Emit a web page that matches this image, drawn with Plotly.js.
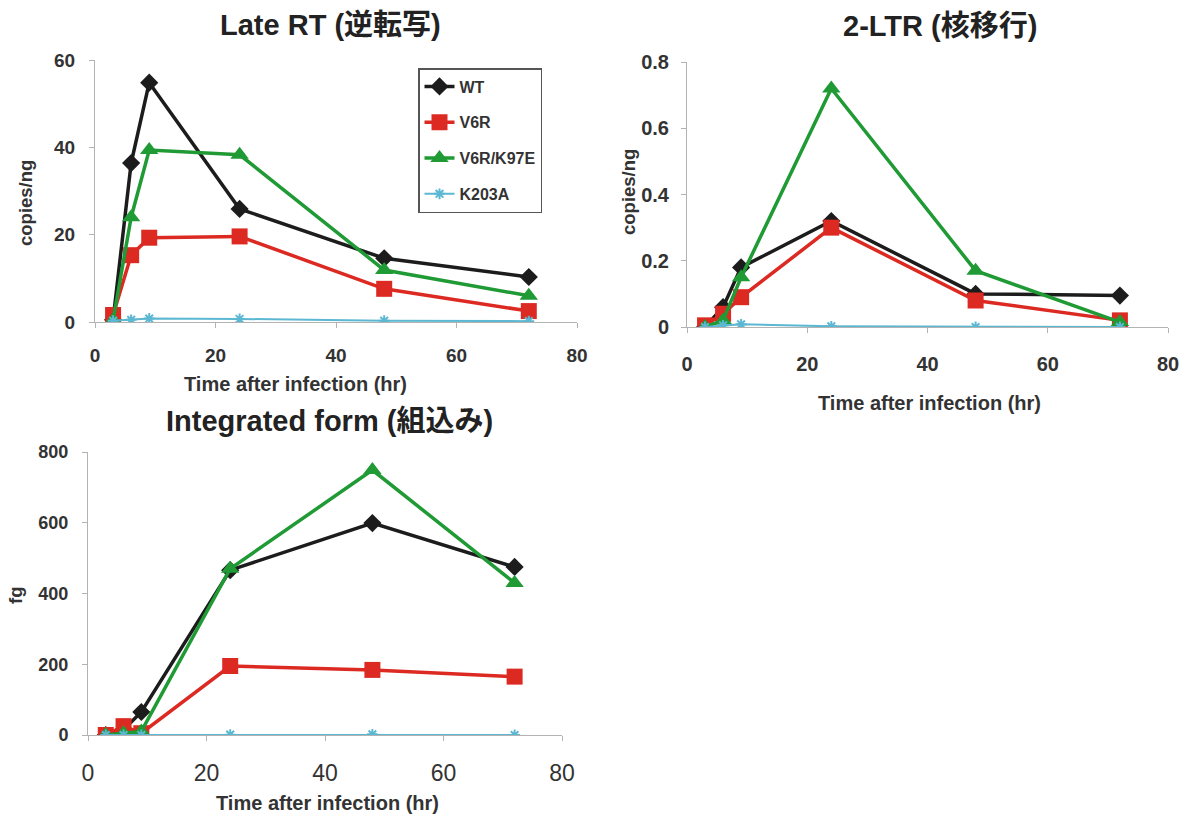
<!DOCTYPE html>
<html><head><meta charset="utf-8">
<script src="https://cdn.plot.ly/plotly-3.0.1.min.js"></script>
<style>html,body{margin:0;padding:0;background:#fff}#chart{width:1196px;height:818px}</style>
</head><body><div id="chart"></div>
<script>
// Time points (hr)
const timeHr = [3, 6, 9, 24, 48, 72];
const seriesNames = ["WT", "V6R", "V6R/K97E", "K203A"];

// Late RT (copies/ng)
const lateRT_WT      = [0.5, 36.4, 54.8, 25.9, 14.6, 10.3];
const lateRT_V6R     = [1.6, 15.3, 19.3, 19.6, 7.6, 2.5];
const lateRT_V6RK97E = [0.4, 24.0, 39.4, 38.3, 11.9, 6.0];
const lateRT_K203A   = [0.3, 0.5, 0.8, 0.7, 0.3, 0.2];

// 2-LTR (copies/ng)
const ltr_WT      = [0.0, 0.06, 0.18, 0.32, 0.10, 0.095];
const ltr_V6R     = [0.005, 0.04, 0.09, 0.30, 0.08, 0.02];
const ltr_V6RK97E = [0.0, 0.02, 0.15, 0.72, 0.17, 0.015];
const ltr_K203A   = [0.0, 0.005, 0.008, 0.002, 0.0, 0.0];

// Integrated form (fg)
const int_WT      = [0, 15, 65, 466, 599, 475];
const int_V6R     = [0, 25, 5, 195, 184, 165];
const int_V6RK97E = [0, 5, 10, 470, 749, 430];
const int_K203A   = [0, 0, 0, 1, 2, 0];

const colors = ["#1c1c1c", "#dc2a22", "#1f9a34", "#5cb8d2"];
const symbols = ["diamond", "square", "triangle-up", "asterisk-open"];
const sizes = [14, 16, 16, 9];
const widths = [3.5, 3.5, 3.5, 2];

function mk(y, i, xa, ya, showLeg) {
  const isAst = symbols[i] === "asterisk-open";
  return {
    x: timeHr, y: y, type: "scatter", mode: "lines+markers",
    name: seriesNames[i], xaxis: xa, yaxis: ya, showlegend: showLeg,
    legendgroup: "g" + i,
    line: {color: colors[i], width: widths[i]},
    marker: {symbol: symbols[i], size: sizes[i], color: colors[i],
             line: {color: colors[i], width: isAst ? 2 : 0}}
  };
}

const late = [lateRT_WT, lateRT_V6R, lateRT_V6RK97E, lateRT_K203A];
const ltr = [ltr_WT, ltr_V6R, ltr_V6RK97E, ltr_K203A];
const integ = [int_WT, int_V6R, int_V6RK97E, int_K203A];
const data = [];
[0,1,2,3].forEach(i => data.push(mk(late[i], i, "x", "y", true)));
[0,1,2,3].forEach(i => data.push(mk(ltr[i], i, "x2", "y2", false)));
[0,1,2,3].forEach(i => data.push(mk(integ[i], i, "x3", "y3", false)));

const FF = "Liberation Sans, Arial, Noto Sans CJK JP, sans-serif";
const axCommon = {
  showgrid: false, zeroline: false, showline: true, linecolor: "#b3b3b3", linewidth: 1,
  ticks: "outside", ticklen: 5, tickcolor: "#b3b3b3", fixedrange: true
};
function xax(domain, anchor, fsize, weight, standoff) {
  return Object.assign({}, axCommon, {domain: domain, anchor: anchor, range: [0, 80], dtick: 20,
    tickfont: {family: FF, size: fsize, color: "#333", weight: weight}, ticklabelstandoff: standoff});
}
function yax(domain, anchor, range, dtick, fsize, standoff) {
  return Object.assign({}, axCommon, {domain: domain, anchor: anchor, range: range, dtick: dtick,
    tickfont: {family: FF, size: fsize, color: "#333", weight: "bold"}, ticklabelstandoff: standoff});
}

const W = 1196, H = 818;
const px = v => v / W, py = v => (H - v) / H;

function ann(text, x, y, size, angle, color) {
  return {text: text, x: px(x), y: py(y), xref: "paper", yref: "paper", showarrow: false,
    xanchor: "center", yanchor: "middle", textangle: angle || 0,
    font: {family: FF, size: size, color: color || "#333", weight: "bold"}};
}

const layout = {
  width: W, height: H, margin: {l: 0, r: 0, t: 0, b: 0},
  paper_bgcolor: "#fff", plot_bgcolor: "#fff",
  showlegend: true,
  xaxis:  xax([px(95), px(577)], "y", 19, "bold", 11),
  yaxis:  yax([py(322), py(60)], "x", [0, 60], 20, 19, 10),
  xaxis2: xax([px(687), px(1168)], "y2", 20, "bold", 14),
  yaxis2: yax([py(327), py(62)], "x2", [0, 0.8], 0.2, 20, 8),
  xaxis3: xax([px(88), px(562)], "y3", 23, "normal", 12),
  yaxis3: yax([py(735), py(452)], "x3", [0, 800], 200, 18, 10),
  legend: {x: px(418), y: py(68), xanchor: "left", yanchor: "top",
    bgcolor: "#fff", bordercolor: "#555", borderwidth: 1.5,
    font: {family: FF, size: 16, color: "#333", weight: "bold"},
    traceorder: "grouped", tracegroupgap: 12, itemwidth: 30},
  annotations: [
    ann("Late RT (逆転写)", 330, 25, 29, 0, "#222"),
    ann("2-LTR (核移行)", 940, 26, 29, 0, "#222"),
    ann("Integrated form (組込み)", 329, 421, 29, 0, "#222"),
    ann("Time after infection (hr)", 295, 384, 20),
    ann("Time after infection (hr)", 929, 403, 20),
    ann("Time after infection (hr)", 327, 803, 20),
    ann("copies/ng", 25, 203, 18.5, -90),
    ann("copies/ng", 629, 192, 18.5, -90),
    ann("fg", 15, 596, 18.5, -90)
  ]
};

Plotly.newPlot("chart", data, layout, {displayModeBar: false, staticPlot: true});
</script></body></html>
